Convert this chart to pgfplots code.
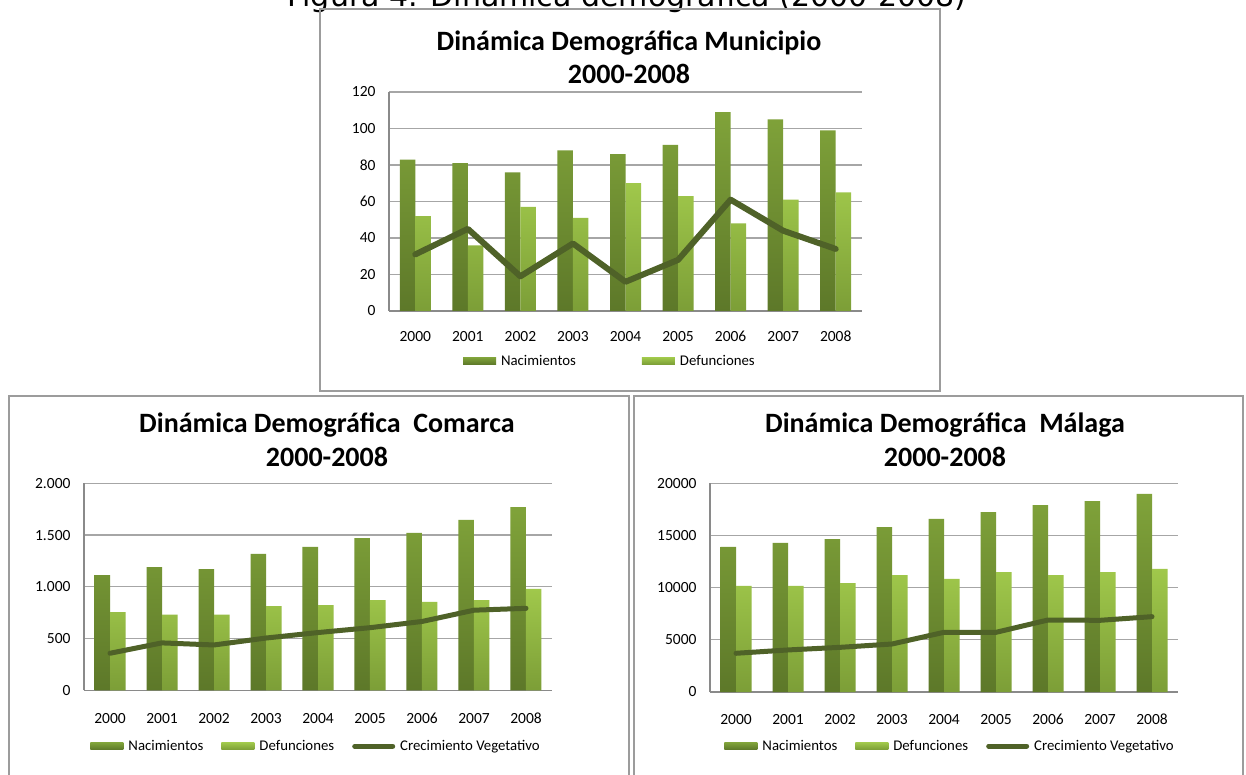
\documentclass[border=0pt]{standalone}
\usepackage{fontspec}
\setmainfont{Carlito}
\newfontfamily\capfont{DejaVu Sans}
\usepackage{pgfplots}
\pgfplotsset{compat=1.18}
\definecolor{nacTop}{HTML}{80A33A}
\definecolor{nacBot}{HTML}{5D7829}
\definecolor{defTop}{HTML}{A0C84B}
\definecolor{defBot}{HTML}{7C9E37}
\definecolor{lineC}{HTML}{4F6228}
\definecolor{gridC}{HTML}{A6A6A6}
\definecolor{axisC}{HTML}{8A8A8A}
\definecolor{boxC}{HTML}{9C9C9C}
\pgfplotsset{
  dd/.style={
    scale only axis, ybar, bar width=15.5pt,
    xmin=-0.5, xmax=8.5, xtick={0,...,8},
    xticklabels={2000,2001,2002,2003,2004,2005,2006,2007,2008},
    enlarge x limits=false, enlarge y limits=false,
    scaled y ticks=false,
    axis x line*=bottom, axis y line*=left,
    axis line style={-, draw=axisC, line width=1.6pt},
    ymajorgrids, grid style={draw=gridC, line width=1.3pt},
    major tick length=0pt,
    tick label style={font=\fontsize{15.5}{18}\selectfont},
    /pgf/number format/assume math mode=true,
    xticklabel style={anchor=base, yshift=-31pt},
    yticklabel style={anchor=east, xshift=-10pt},
    legend style={anchor=center, draw=none, fill=none,
      legend columns=-1, font=\fontsize{14.8}{17}\selectfont,
      /tikz/every odd column/.append style={column sep=3pt}},
  },
  nac/.style={draw=none, top color=nacTop, bottom color=nacBot, bar shift=-7.75pt,
    legend image code/.code={\shade[top color=nacTop,bottom color=nacBot] (0pt,-3.5pt) rectangle (33pt,3.5pt);}},
  def/.style={draw=none, top color=defTop, bottom color=defBot, bar shift=7.75pt,
    legend image code/.code={\shade[top color=defTop,bottom color=defBot] (0pt,-3.5pt) rectangle (33pt,3.5pt);}},
  crec/.style={sharp plot, draw=lineC, line width=5.5pt, line cap=round, line join=round, mark=none,
    legend image code/.code={\draw[lineC, line width=5pt, line cap=round] (2pt,0pt) -- (40pt,0pt);}},
}
\begin{document}
\begin{tikzpicture}[x=1pt,y=1pt]
\useasboundingbox (0,0) rectangle (1246,774);
\clip (0,0) rectangle (1246,774);
\fill[white] (0,0) rectangle (1246,774);
% caption (cut at top, as in the source)
\node[font=\capfont\fontsize{30}{34}\selectfont, anchor=base, inner sep=0pt] at (627,767) {Figura 4. Dinámica demográfica (2000-2008)};
% boxes
\draw[boxC, line width=1.4pt] (320,765) rectangle (940,383);
\draw[boxC, line width=1.4pt] (9,378) rectangle (629,-10);
\draw[boxC, line width=1.4pt] (634,378) rectangle (1243,-10);
% top chart
\begin{axis}[dd, at={(389pt,463pt)}, anchor=south west, width=473pt, height=219pt,
  ymin=0, ymax=120, ytick={0,20,...,120},
  legend style={at={(axis description cs:0.467,-0.228)},
    /tikz/every even column/.append style={column sep=64pt}}]
\addplot[nac] coordinates {(0,83)(1,81)(2,76)(3,88)(4,86)(5,91)(6,109)(7,105)(8,99)};
\addlegendentry{Nacimientos}
\addplot[def] coordinates {(0,52)(1,36)(2,57)(3,51)(4,70)(5,63)(6,48)(7,61)(8,65)};
\addlegendentry{Defunciones}
\addplot[crec, line width=6pt] coordinates {(0,31)(1,45)(2,19)(3,37)(4,16)(5,28)(6,61)(7,44)(8,34)};
\end{axis}
% bottom left
\begin{axis}[dd, at={(84pt,83.7pt)}, anchor=south west, width=468pt, height=207pt,
  ymin=0, ymax=2000, ytick={0,500,1000,1500,2000},
  yticklabels={0,500,1.000,1.500,2.000},
  xticklabel style={yshift=-2pt},
  legend style={at={(axis description cs:0.496,-0.27)},
    /tikz/every even column/.append style={column sep=16pt}}]
\addplot[nac] coordinates {(0,1114)(1,1191)(2,1172)(3,1317)(4,1385)(5,1471)(6,1520)(7,1646)(8,1771)};
\addlegendentry{Nacimientos}
\addplot[def] coordinates {(0,756)(1,730)(2,730)(3,814)(4,824)(5,872)(6,855)(7,872)(8,979)};
\addlegendentry{Defunciones}
\addplot[crec, line width=5pt] coordinates {(0,358)(1,458)(2,438)(3,505)(4,558)(5,605)(6,665)(7,774)(8,792)};
\addlegendentry{Crecimiento Vegetativo}
\end{axis}
% bottom right
\begin{axis}[dd, at={(710pt,82pt)}, anchor=south west, width=468pt, height=208.7pt,
  ymin=0, ymax=20000, ytick={0,5000,10000,15000,20000},
  yticklabels={0,5000,10000,15000,20000},
  xticklabel style={yshift=-1pt},
  legend style={at={(axis description cs:0.513,-0.259)},
    /tikz/every even column/.append style={column sep=16pt}}]
\addplot[nac] coordinates {(0,13900)(1,14280)(2,14660)(3,15810)(4,16580)(5,17250)(6,17920)(7,18300)(8,18980)};
\addlegendentry{Nacimientos}
\addplot[def] coordinates {(0,10160)(1,10160)(2,10440)(3,11210)(4,10830)(5,11500)(6,11210)(7,11500)(8,11790)};
\addlegendentry{Defunciones}
\addplot[crec, line width=5pt] coordinates {(0,3710)(1,4030)(2,4280)(3,4600)(4,5720)(5,5720)(6,6900)(7,6870)(8,7220)};
\addlegendentry{Crecimiento Vegetativo}
\end{axis}
% titles
\node[align=center, font=\bfseries\fontsize{28}{33}\selectfont] at (629,717) {Dinámica Demográfica Municipio\\2000-2008};
\node[align=center, font=\bfseries\fontsize{28}{34}\selectfont] at (327,334) {Dinámica Demográfica~ Comarca\\2000-2008};
\node[align=center, font=\bfseries\fontsize{28}{34}\selectfont] at (945,334) {Dinámica Demográfica~ Málaga\\2000-2008};
\end{tikzpicture}
\end{document}
